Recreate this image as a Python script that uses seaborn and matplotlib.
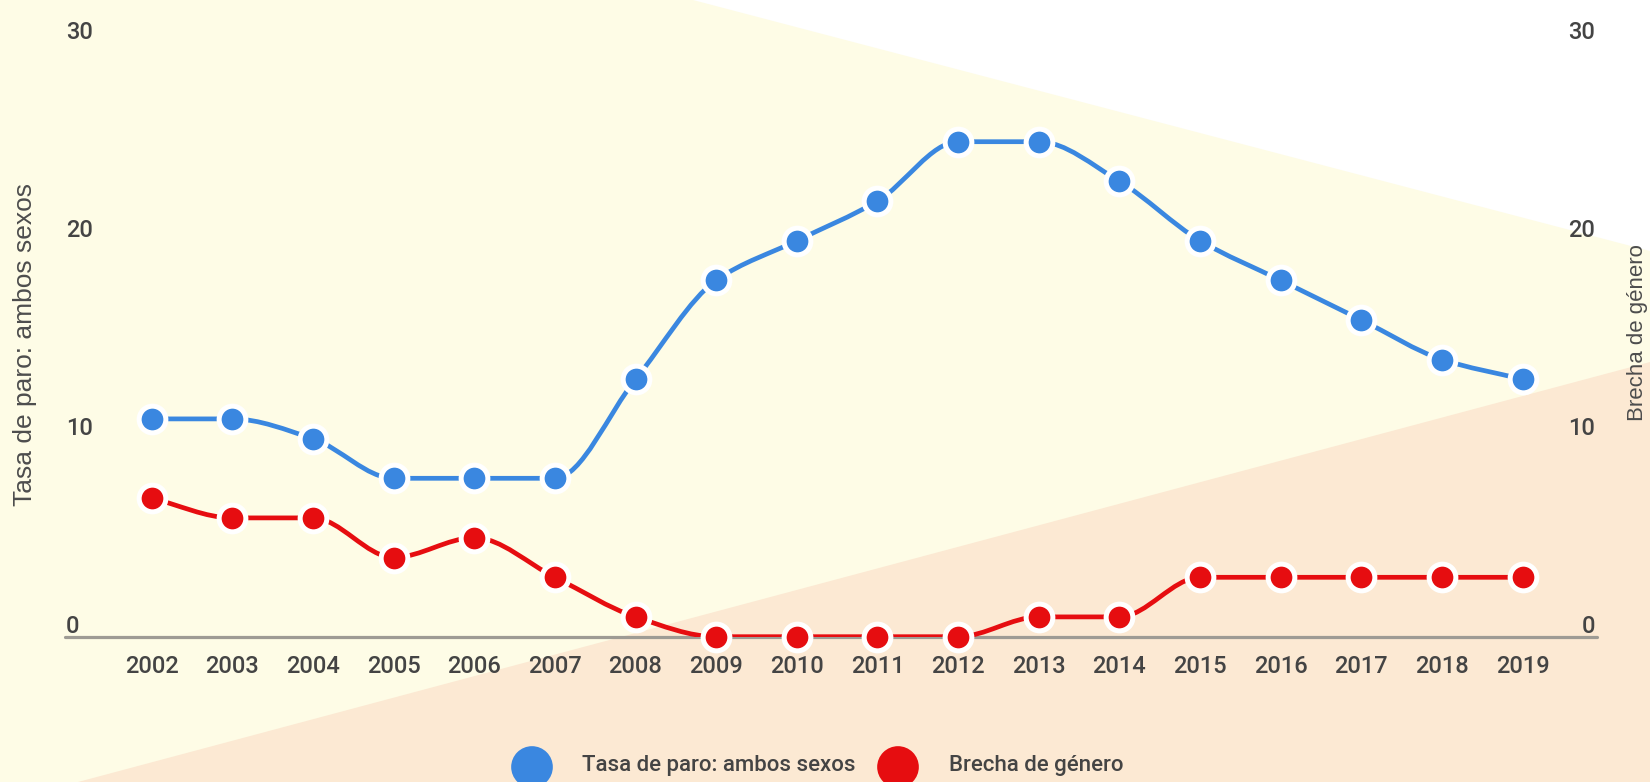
import numpy as np
import pandas as pd
import seaborn as sns
import matplotlib.pyplot as plt
from matplotlib.path import Path
from matplotlib.patches import PathPatch, Polygon
from matplotlib import transforms

# datos
years = list(range(2002, 2020))
tasa_paro = [11, 11, 10, 8, 8, 8, 13, 18, 20, 22, 25, 25, 23, 20, 18, 16, 14, 13]
brecha = [7, 6, 6, 4, 5, 3, 1, 0, 0, 0, 0, 1, 1, 3, 3, 3, 3, 3]
y_ticks = [0, 10, 20, 30]
label_tasa = "Tasa de paro: ambos sexos"
label_brecha = "Brecha de género"

BLUE = "#3a87e0"
RED = "#e60d10"
TXT = "#444444"

sns.set_theme(style="white")
plt.rcParams["font.family"] = ["Roboto", "DejaVu Sans"]

df = pd.DataFrame({"year": years, "tasa": tasa_paro, "brecha": brecha})


def smooth_path(x, y):
    # curva cubica monotona (tipo "function" de Google Charts) como path Bezier
    x = np.asarray(x, float)
    y = np.asarray(y, float)
    h = np.diff(x)
    d = np.diff(y) / h
    m = np.zeros_like(y)
    m[0], m[-1] = d[0], d[-1]
    for k in range(1, len(y) - 1):
        if d[k - 1] * d[k] > 0:
            m[k] = 2 * d[k - 1] * d[k] / (d[k - 1] + d[k])
    verts = [(x[0], y[0])]
    codes = [Path.MOVETO]
    for k in range(len(x) - 1):
        verts += [(x[k] + h[k] / 3, y[k] + m[k] * h[k] / 3),
                  (x[k + 1] - h[k] / 3, y[k + 1] - m[k + 1] * h[k] / 3),
                  (x[k + 1], y[k + 1])]
        codes += [Path.CURVE4] * 3
    return Path(verts, codes)


W, H = 1650, 782
fig = plt.figure(figsize=(W / 100, H / 100), dpi=100)
fig.patch.set_facecolor("white")

# fondo decorativo
bg = fig.add_axes([0, 0, 1, 1], zorder=0)
bg.set_xlim(0, W)
bg.set_ylim(H, 0)
bg.axis("off")
bg.add_patch(Polygon([(0, 0), (693, 0), (W, 251), (W, H), (0, H)],
                     closed=True, facecolor="#fefce6", edgecolor="none"))
bg.add_patch(Polygon([(78, H), (W, 362), (W, H)],
                     closed=True, facecolor="#fce9d3", edgecolor="none"))

left, right, top, base = 65, 1597, 42.7, 636.7
ax = fig.add_axes([left / W, (H - base) / H, (right - left) / W, (base - top) / H], zorder=1)
ax.patch.set_alpha(0)
ax2 = ax.twinx()
ax2.patch.set_alpha(0)

x0 = 2002 - (151.7 - left) / 80.64
x1 = 2019 + (right - 1522.6) / 80.64
for a in (ax, ax2):
    a.set_xlim(x0, x1)
    a.set_ylim(0, 30)
    a.set_yticks(y_ticks)
    a.set_yticklabels([])
    a.tick_params(length=0)
    for s in a.spines.values():
        s.set_visible(False)

ax.axhline(0, color="#9e9b94", lw=2.3, zorder=1, clip_on=False)

ax.add_patch(PathPatch(smooth_path(years, tasa_paro), facecolor="none",
                       edgecolor=BLUE, lw=3.4, zorder=2, capstyle="round"))
sns.scatterplot(data=df, x="year", y="tasa", ax=ax, color=BLUE, s=370,
                edgecolor="white", linewidth=3.6, zorder=3, legend=False)

ax2.add_patch(PathPatch(smooth_path(years, brecha), facecolor="none",
                        edgecolor=RED, lw=3.4, zorder=2, capstyle="round"))
sns.scatterplot(data=df, x="year", y="brecha", ax=ax2, color=RED, s=370,
                edgecolor="white", linewidth=3.6, zorder=3, legend=False, clip_on=False)
for a in (ax, ax2):
    a.set_ylabel("")
    a.set_xlabel("")

ax.set_xticks(years)
ax.set_xticklabels([str(y) for y in years], fontsize=17, color=TXT, fontweight="medium")
ax.tick_params(axis="x", pad=13.5)

# etiquetas del eje y dentro del grafico, sobre cada linea de referencia
lt = transforms.blended_transform_factory(ax.transAxes, ax.transData)
up = transforms.ScaledTranslation(0, 4 / 100, fig.dpi_scale_trans)
for v in y_ticks:
    ax.text(0.0 + 1 / (right - left), v, str(v), transform=lt + up, ha="left", va="baseline",
            fontsize=17, color=TXT, fontweight="medium")
    ax.text(1.0 - 2 / (right - left), v, str(v), transform=lt + up, ha="right", va="baseline",
            fontsize=17, color=TXT, fontweight="medium")

# titulos de ejes
fig.text(25 / W, 1 - 345 / H, label_tasa, rotation=90, ha="center", va="center",
         fontsize=19, color="#4d4d4d", family=["Liberation Sans", "DejaVu Sans"])
fig.text(1637 / W, 1 - 333 / H, label_brecha, rotation=90, ha="center", va="center",
         fontsize=16, color="#4d4d4d", family=["Liberation Sans", "DejaVu Sans"])

# leyenda
bg.scatter([532, 898], [767, 767], s=900, color=[BLUE, RED], edgecolor="none", clip_on=False)
bg.text(582, 765, label_tasa, ha="left", va="center", fontsize=16, color=TXT, fontweight="medium")
bg.text(949, 765, label_brecha, ha="left", va="center", fontsize=16, color=TXT, fontweight="medium")

fig.savefig("out.png", dpi=100)
